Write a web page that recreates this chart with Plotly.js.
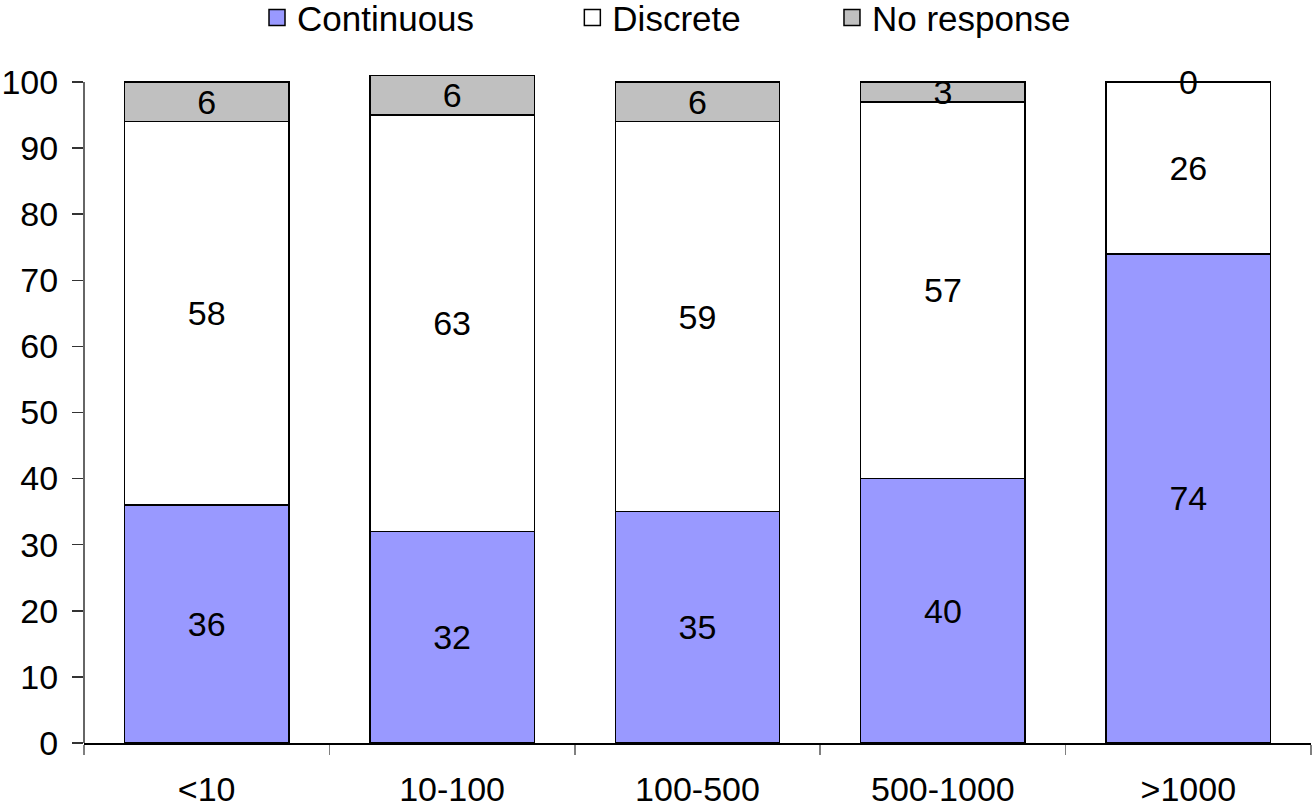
<!DOCTYPE html>
<html>
<head>
<meta charset="utf-8">
<script src="https://cdn.plot.ly/plotly-3.0.1.min.js"></script>
<style>html,body{margin:0;padding:0;background:#fff;}#chart{width:1312px;height:807px;}</style>
</head>
<body>
<div id="chart"></div>
<script>
const categories = ['<10', '10-100', '100-500', '500-1000', '>1000'];
const continuous = [36, 32, 35, 40, 74];
const discrete = [58, 63, 59, 57, 26];
const noResponse = [6, 6, 6, 3, 0];
const yTicks = [0, 10, 20, 30, 40, 50, 60, 70, 80, 90, 100];

const FONT = 'Liberation Sans, Arial, sans-serif';
const lineStyle = {color: '#000', width: 1.5};

function mk(name, vals, color) {
  return {
    type: 'bar', name: name, x: categories, y: vals,
    marker: {color: color, line: lineStyle},
    text: vals.map(v => v === 0 ? '' : String(v)),
    textposition: 'inside', insidetextanchor: 'middle', textangle: 0,
    textfont: {family: FONT, size: 34, color: '#000'},
    constraintext: 'none', cliponaxis: false,
    hoverinfo: 'skip', showlegend: false
  };
}
// legend key (square swatch) for each series; draws no mark in the plot
function key(name, color, legendId) {
  return {
    type: 'scatter', mode: 'markers', name: name, x: [categories[0]], y: [null],
    marker: {symbol: 'square', size: 19, color: color, line: {color: '#000', width: 1.5}},
    hoverinfo: 'skip', legend: legendId, showlegend: true
  };
}

const traces = [
  mk('Continuous', continuous, '#9999FF'),
  mk('Discrete', discrete, '#FFFFFF'),
  mk('No response', noResponse, '#C0C0C0'),
  key('Continuous', '#9999FF', 'legend'),
  key('Discrete', '#FFFFFF', 'legend2'),
  key('No response', '#C0C0C0', 'legend3')
];

// labels for zero-height segments (bar text cannot be drawn inside them)
const zeroLabels = [];
noResponse.forEach((v, i) => {
  if (v === 0) {
    zeroLabels.push({x: categories[i], y: continuous[i] + discrete[i] + v / 2,
      xref: 'x', yref: 'y', text: String(v), showarrow: false,
      font: {family: FONT, size: 34, color: '#000'}, yanchor: 'middle'});
  }
});

const legBase = {orientation: 'h', yref: 'container', yanchor: 'middle', y: 0.978, xanchor: 'left',
  font: {family: FONT, size: 35, color: '#000'}, bgcolor: 'rgba(0,0,0,0)', borderwidth: 0,
  itemsizing: 'trace'};

const layout = {
  width: 1312, height: 807,
  margin: {l: 84, r: 1, t: 74, b: 64},
  paper_bgcolor: '#fff', plot_bgcolor: '#fff',
  barmode: 'stack', bargap: 0.33,
  uniformtext: {mode: 'show', minsize: 34},
  font: {family: FONT, size: 34, color: '#000'},
  showlegend: true,
  legend: Object.assign({}, legBase, {x: 0.141}),
  legend2: Object.assign({}, legBase, {x: 0.398}),
  legend3: Object.assign({}, legBase, {x: 0.6096}),
  xaxis: {
    type: 'category', showline: true, linecolor: '#000', linewidth: 1.5,
    ticks: 'outside', tickson: 'boundaries', ticklen: 10, tickcolor: '#808080', tickwidth: 1.5,
    tickfont: {family: FONT, size: 34, color: '#000'}, ticklabelstandoff: 16,
    showgrid: false, zeroline: false, fixedrange: true
  },
  yaxis: {
    range: [0, 101.2], tickvals: yTicks, ticktext: yTicks.map(String),
    showline: false, ticks: 'outside', ticklen: 11, tickcolor: '#333', tickwidth: 1.5,
    tickfont: {family: FONT, size: 34, color: '#000'}, ticklabelstandoff: 7,
    showgrid: false, zeroline: false, fixedrange: true
  },
  annotations: zeroLabels,
  shapes: [{type: 'line', xref: 'paper', yref: 'y', x0: 0, x1: 0, y0: 0, y1: 100,
    line: {color: '#333', width: 1.5}}]
};

Plotly.newPlot('chart', traces, layout, {displayModeBar: false, staticPlot: true});
</script>
</body>
</html>
